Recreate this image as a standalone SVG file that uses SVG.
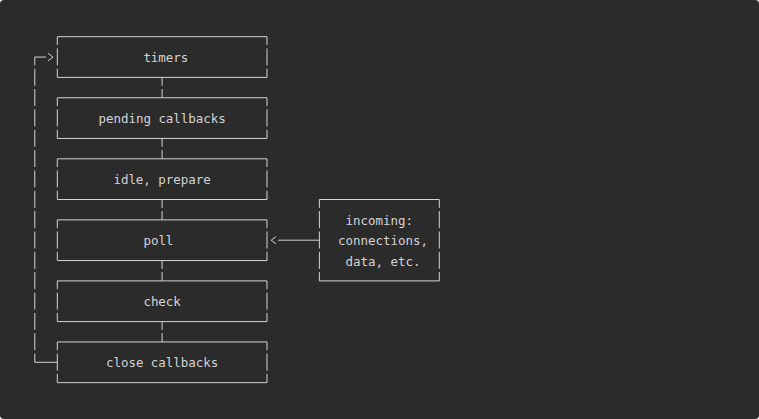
<svg xmlns="http://www.w3.org/2000/svg" width="759" height="419" viewBox="0 0 759 419">
<style>
.bg{fill:#2b2b2b}
.ln{fill:none;stroke:#d4d4d4;stroke-width:1}
.side{stroke-dasharray:8.3 3.35 17 3.35 8.7}
.side5{stroke-dasharray:8.3 3.35 17 3.35 17 3.35 17 3.35 8.7}
.link{stroke-dasharray:8.3 3.35 8.7}
.loop{stroke-dasharray:17 3.35}
.t{font-family:"DejaVu Sans Mono","Liberation Mono",monospace;font-size:12.5px;fill:#d4d4d4}
</style>
<defs>
<marker id="chev" viewBox="0 0 9 8" refX="0" refY="3.8" markerWidth="9" markerHeight="8" markerUnits="userSpaceOnUse" orient="auto">
<path d="M2,0 L7,3.8 L2,7.6" fill="none" stroke="#d4d4d4" stroke-width="1"/>
</marker>
</defs>
<rect class="bg" x="0" y="0" width="759" height="419" rx="4"/>
<g id="connectors">
<path class="ln" d="M34.8 65.35 V57.05 H46" marker-end="url(#chev)"/>
<path class="ln loop" d="M34.8 68.7 V362.3"/>
<path class="ln" d="M34.8 362.3 H57.3"/>
<path class="ln link" d="M162.1 77.4 V97.75"/>
<path class="ln link" d="M162.1 138.45 V158.8"/>
<path class="ln link" d="M162.1 199.5 V219.85"/>
<path class="ln link" d="M162.1 260.55 V280.9"/>
<path class="ln link" d="M162.1 321.6 V341.95"/>
<path class="ln" d="M319.4 240.2 H278.2" marker-end="url(#chev)"/>
</g>
<g id="timers">
<path class="ln" d="M57.3 36.7 H267 M57.3 77.4 H267"/>
<path class="ln side" d="M57.3 36.7 V77.4 M267 36.7 V77.4"/>
<text class="t" x="143.4" y="62.05" textLength="44.9">timers</text>
</g>
<g id="pending-callbacks">
<path class="ln" d="M57.3 97.75 H267 M57.3 138.45 H267"/>
<path class="ln side" d="M57.3 97.75 V138.45 M267 97.75 V138.45"/>
<text class="t" x="98.5" y="123.1" textLength="127.3">pending callbacks</text>
</g>
<g id="idle-prepare">
<path class="ln" d="M57.3 158.8 H267 M57.3 199.5 H267"/>
<path class="ln side" d="M57.3 158.8 V199.5 M267 158.8 V199.5"/>
<text class="t" x="113.4" y="184.15" textLength="97.4">idle, prepare</text>
</g>
<g id="poll">
<path class="ln" d="M57.3 219.85 H267 M57.3 260.55 H267"/>
<path class="ln side" d="M57.3 219.85 V260.55 M267 219.85 V260.55"/>
<text class="t" x="143.4" y="245.2" textLength="30">poll</text>
</g>
<g id="check">
<path class="ln" d="M57.3 280.9 H267 M57.3 321.6 H267"/>
<path class="ln side" d="M57.3 280.9 V321.6 M267 280.9 V321.6"/>
<text class="t" x="143.4" y="306.25" textLength="37.45">check</text>
</g>
<g id="close-callbacks">
<path class="ln" d="M57.3 341.95 H267 M57.3 382.65 H267"/>
<path class="ln side" d="M57.3 341.95 V382.65 M267 341.95 V382.65"/>
<text class="t" x="105.95" y="367.3" textLength="112.35">close callbacks</text>
</g>
<g id="incoming">
<path class="ln" d="M319.4 199.5 H439.3 M319.4 280.9 H439.3"/>
<path class="ln side5" d="M319.4 199.5 V280.9 M439.3 199.5 V280.9"/>
<text class="t" x="345.6" y="224.85" textLength="67.4">incoming:</text>
<text class="t" x="338.1" y="245.2" textLength="89.9">connections,</text>
<text class="t" x="345.6" y="265.55" textLength="74.9">data, etc.</text>
</g>
</svg>
